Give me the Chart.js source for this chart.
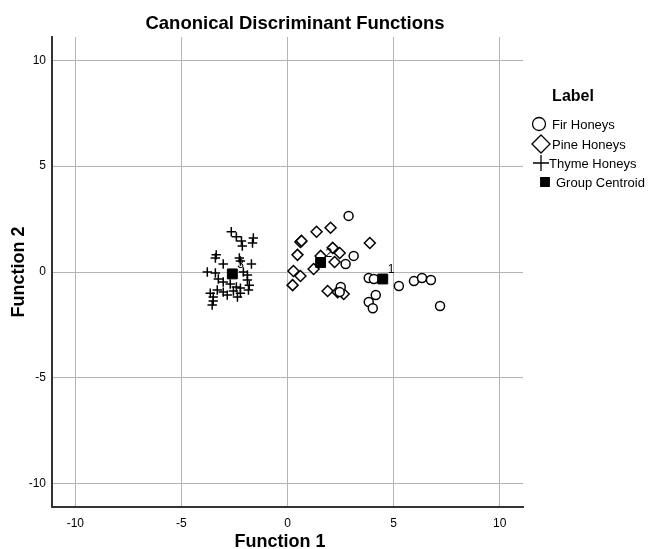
<!DOCTYPE html>
<html>
<head>
<meta charset="utf-8">
<script src="https://cdn.jsdelivr.net/npm/chart.js@4.4.1/dist/chart.umd.min.js"></script>
<style>
  body { margin: 0; background: #fff; }
  canvas { display: block; }
</style>
</head>
<body>
<canvas id="chartScatter" width="656" height="549"></canvas>
<script>
// group scores
const firX = [2.88, 3.12, 2.74, 2.51, 2.46, 3.83, 4.07, 5.25, 5.96, 6.34, 6.76, 4.16, 3.83, 4.02, 7.19];
const firY = [2.65, 0.76, 0.38, -0.71, -0.95, -0.28, -0.33, -0.66, -0.43, -0.28, -0.38, -1.09, -1.42, -1.71, -1.61];

const pineX = [2.03, 1.37, 0.61, 0.66, 0.47, 2.13, 2.46, 2.22, 3.88, 1.23, 0.28, 0.61, 0.24, 1.89, 2.36, 2.65, 1.56];
const pineY = [2.09, 1.90, 1.42, 1.47, 0.81, 1.14, 0.90, 0.47, 1.37, 0.14, 0.05, -0.19, -0.62, -0.90, -0.95, -1.04, 0.76];

const thymeX = [-2.65, -2.41, -2.17, -2.13, -1.61, -1.65, -3.36, -3.40, -3.03, -2.27, -2.22, -1.70,
  -3.78, -3.40, -2.08, -1.89, -3.26, -3.03, -2.70, -2.41, -1.89, -1.80, -1.84, -3.31,
  -3.03, -2.55, -2.22, -3.64, -3.50, -2.84, -3.55, -3.50, -2.36, -2.22];
const thymeY = [1.90, 1.66, 1.47, 1.23, 1.61, 1.37, 0.81, 0.66, 0.38, 0.66, 0.52, 0.38,
  0.00, -0.05, 0.00, -0.14, -0.33, -0.47, -0.57, -0.71, -0.38, -0.62, -0.85, -0.85,
  -0.95, -0.90, -1.00, -1.00, -1.18, -1.09, -1.56, -1.37, -1.18, -0.76];

const centroidX = [4.49, 1.56, -2.60];
const centroidY = [-0.33, 0.45, -0.09];
const centroidLabels = ["1", "2", "3"];

const seriesNames = ["Fir Honeys", "Pine Honeys", "Thyme Honeys", "Group Centroid"];
const axisTicks = [-10, -5, 0, 5, 10];

const zip = (xs, ys) => xs.map((x, i) => ({ x: x, y: ys[i] }));

// draws title, x axis name, legend and centroid numbers
const extras = {
  id: "extras",
  afterDatasetsDraw(chart) {
    const c = chart.ctx;
    const sx = chart.scales.x, sy = chart.scales.y;
    c.save();
    c.fillStyle = "#000";
    c.font = "12px Arial";
    c.textAlign = "left";
    c.textBaseline = "middle";
    centroidLabels.forEach((t, i) => {
      c.fillText(t, sx.getPixelForValue(centroidX[i]) + 5, sy.getPixelForValue(centroidY[i]) - 9);
    });

    c.textAlign = "center";
    c.textBaseline = "alphabetic";
    c.font = "bold 18.5px Arial";
    c.fillText("Canonical Discriminant Functions", 295, 29);
    c.font = "bold 18px Arial";
    c.fillText("Function 1", 280, 547);

    c.textBaseline = "middle";
    c.font = "bold 16px Arial";
    c.fillText("Label", 573, 97);

    const marks = [
      { style: "circle", r: 6.5, fill: "#fff" },
      { style: "rectRot", r: 9, fill: "#fff" },
      { style: "cross", r: 8, fill: "#fff" },
      { style: "rect", r: 6, fill: "#000" }
    ];
    const rows = [124, 144, 163, 182];
    const markX = [539, 541, 541, 545];
    const textX = [552, 552, 549, 556];
    c.font = "13px Arial";
    c.textAlign = "left";
    seriesNames.forEach((name, i) => {
      c.strokeStyle = "#000";
      c.fillStyle = marks[i].fill;
      c.lineWidth = 1.3;
      Chart.helpers.drawPoint(c, { pointStyle: marks[i].style, radius: marks[i].r, borderWidth: 1.3, rotation: 0 }, markX[i], rows[i]);
      c.fillStyle = "#000";
      c.fillText(name, textX[i], rows[i] + 1);
    });
    c.restore();
  }
};

const keepTicks = (scale) => {
  scale.ticks = axisTicks.map(v => ({ value: v }));
};

new Chart(document.getElementById("chartScatter"), {
  type: "scatter",
  data: {
    datasets: [
      {
        label: seriesNames[3],
        data: zip(centroidX, centroidY),
        pointStyle: "rect",
        pointRadius: 7,
        backgroundColor: "#000",
        borderColor: "#000",
        borderWidth: 1,
        order: 0
      },
      {
        label: seriesNames[0],
        data: zip(firX, firY),
        pointStyle: "circle",
        pointRadius: 4.5,
        backgroundColor: "#fff",
        borderColor: "#000",
        borderWidth: 1.5,
        order: 1
      },
      {
        label: seriesNames[1],
        data: zip(pineX, pineY),
        pointStyle: "rectRot",
        pointRadius: 5.5,
        backgroundColor: "#fff",
        borderColor: "#000",
        borderWidth: 1.5,
        order: 1
      },
      {
        label: seriesNames[2],
        data: zip(thymeX, thymeY),
        pointStyle: "cross",
        pointRadius: 4.7,
        backgroundColor: "#000",
        borderColor: "#000",
        borderWidth: 1.5,
        order: 1
      }
    ]
  },
  options: {
    responsive: false,
    animation: false,
    layout: { padding: { top: 37, right: 133, bottom: 0, left: 0 } },
    plugins: {
      legend: { display: false },
      title: { display: false },
      tooltip: { enabled: false }
    },
    scales: {
      x: {
        type: "linear",
        min: -11.1,
        max: 11.1,
        afterBuildTicks: keepTicks,
        afterFit: (s) => { s.height = 42; },
        grid: { color: "#b4b4b4", lineWidth: 1, drawTicks: false },
        border: { color: "#333", width: 2 },
        ticks: { color: "#000", font: { family: "Arial", size: 12 }, padding: 9 },
        title: { display: false }
      },
      y: {
        type: "linear",
        min: -11.1,
        max: 11.1,
        afterBuildTicks: keepTicks,
        afterFit: (s) => { s.width = 52; },
        grid: { color: "#b4b4b4", lineWidth: 1, drawTicks: false },
        border: { color: "#333", width: 2 },
        ticks: { color: "#000", font: { family: "Arial", size: 12 }, padding: 6 },
        title: {
          display: true,
          text: "Function 2",
          color: "#000",
          font: { family: "Arial", size: 18, weight: "bold" },
          padding: { top: 8, bottom: 0 }
        }
      }
    }
  },
  plugins: [extras]
});
</script>
</body>
</html>
